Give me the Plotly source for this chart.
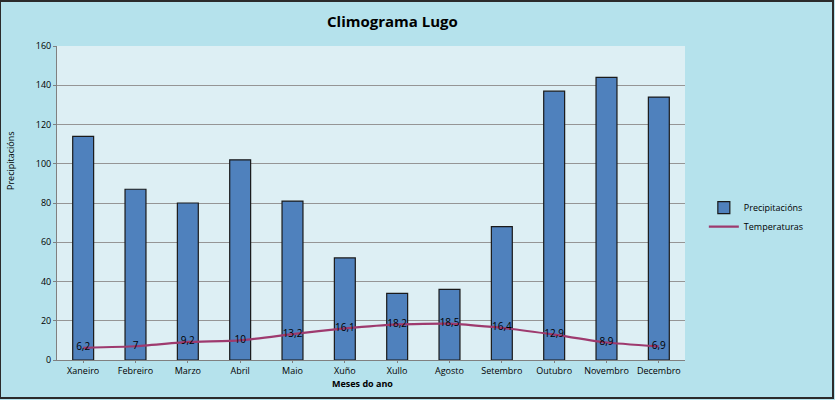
import plotly.graph_objects as go

meses = ["Xaneiro", "Febreiro", "Marzo", "Abril", "Maio", "Xuño", "Xullo",
         "Agosto", "Setembro", "Outubro", "Novembro", "Decembro"]
precipitacions = [114, 87, 80, 102, 81, 52, 34, 36, 68, 137, 144, 134]
temperaturas = [6.2, 7, 9.2, 10, 13.2, 16.1, 18.2, 18.5, 16.4, 12.9, 8.9, 6.9]
y_ticks = [0, 20, 40, 60, 80, 100, 120, 140, 160]

FONT = "Open Sans"
PW, PH = 628, 314

fig = go.Figure()
fig.add_trace(go.Bar(
    x=meses, y=precipitacions, name="Precipitacións",
    marker=dict(color="#4f81bd", line=dict(color="#1a1a1a", width=1.2)),
    width=0.4,
))
fig.add_trace(go.Scatter(
    x=meses, y=temperaturas, name="Temperaturas", mode="lines+text",
    line=dict(color="#9e3a6e", width=2.2, shape="spline", smoothing=0.4),
    text=[str(v).replace(".", ",") for v in temperaturas],
    textposition="middle center",
    textfont=dict(family=FONT, size=10, color="#000000"),
))

fig.update_layout(
    width=835, height=400,
    margin=dict(l=57, r=150, t=46, b=40),
    paper_bgcolor="#b5e2ec",
    plot_bgcolor="#ddeff4",
    title=dict(text="<b>Climograma Lugo</b>", x=0.47, xanchor="center",
               y=0.945, yanchor="middle",
               font=dict(family=FONT, size=15, color="#000000")),
    font=dict(family=FONT, size=9, color="#000000"),
    showlegend=True,
    legend=dict(x=1.03, y=0.455, xanchor="left", yanchor="middle",
                bgcolor="rgba(0,0,0,0)", font=dict(family=FONT, size=9),
                itemwidth=30, tracegroupgap=6),
    bargap=0.6,
    shapes=[dict(type="rect", xref="paper", yref="paper",
                 x0=-57/PW, x1=1 + 148/PW, y0=-38/PH, y1=1 + 45/PH,
                 line=dict(color="#2b2b2b", width=2), layer="above")],
    annotations=[
        dict(text="<b>Meses do ano</b>", xref="paper", yref="paper",
             x=(362 - 57) / PW, y=-23 / PH, xanchor="center", yanchor="middle",
             showarrow=False, font=dict(family=FONT, size=9)),
        dict(text="Precipitacións", xref="paper", yref="paper",
             x=(10 - 57) / PW, y=(360 - 161) / PH, xanchor="center", yanchor="middle",
             textangle=-90, showarrow=False, font=dict(family=FONT, size=9)),
    ],
)
fig.update_xaxes(
    automargin=False, range=[-0.5, 11.5],
    showline=True, linecolor="#808080", linewidth=1,
    ticks="outside", ticklen=2, tickcolor="#808080",
    tickfont=dict(family=FONT, size=9),
)
fig.update_yaxes(
    automargin=False,
    range=[0, 160], tickvals=y_ticks, showgrid=True, gridcolor="#959595", gridwidth=1,
    showline=True, linecolor="#808080", linewidth=1,
    ticks="outside", ticklen=3, tickcolor="#808080",
    tickfont=dict(family=FONT, size=9), zeroline=False,
)

fig.write_html("out.html")
